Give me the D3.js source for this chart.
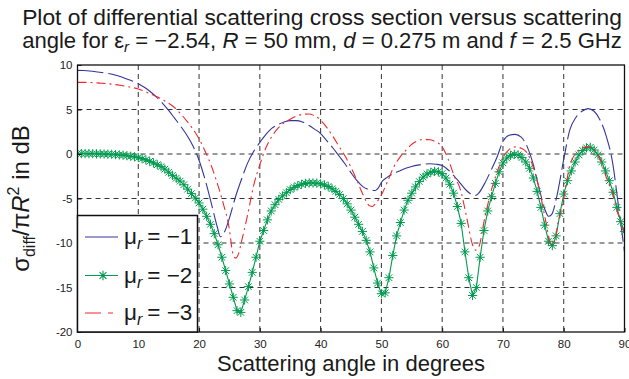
<!DOCTYPE html>
<html>
<head>
<meta charset="utf-8">
<script src="https://cdn.jsdelivr.net/npm/d3@7"></script>
<style>
  html, body { margin: 0; padding: 0; background: #fff; }
  svg { display: block; font-family: "Liberation Sans", Arial, Helvetica, sans-serif; }
</style>
</head>
<body>
<svg id="chart" width="629" height="379"></svg>
<script>
// Axis ticks
const xTicks = [0, 10, 20, 30, 40, 50, 60, 70, 80, 90];
const yTicks = [-20, -15, -10, -5, 0, 5, 10];

// Legend labels (relative permeability)
const legendLabels = ["\u22121", "\u22122", "\u22123"];

// mu_r = -2 : sampled every 0.625 degrees from 0 to 90 (145 samples), dB
const mu2Values = [
  0.05, 0.05, 0.05, 0.04, 0.03, 0.02, 0.01, 0.0, -0.02, -0.04,
  -0.07, -0.1, -0.14, -0.19, -0.25, -0.32, -0.4, -0.52, -0.66, -0.82,
  -1.0, -1.2, -1.42, -1.7, -2.05, -2.4, -2.72, -3.05, -3.45, -3.95,
  -4.45, -4.95, -5.5, -6.2, -7.0, -7.9, -8.95, -10.2, -11.6, -13.1,
  -14.6, -16.1, -17.6, -17.8, -16.4, -14.9, -13.3, -11.6, -9.8, -8.6,
  -7.4, -6.4, -5.7, -5.1, -4.7, -4.35, -4.0, -3.75, -3.55, -3.4,
  -3.3, -3.25, -3.25, -3.27, -3.35, -3.48, -3.65, -3.9, -4.2, -4.55,
  -5.0, -5.6, -6.3, -7.1, -7.9, -8.7, -9.7, -11.0, -12.8, -14.5,
  -15.7, -15.6, -13.9, -11.4, -9.2, -7.7, -6.3, -5.2, -4.4, -3.7,
  -3.1, -2.6, -2.25, -2.05, -1.95, -2.0, -2.2, -2.7, -3.4, -4.4,
  -5.9, -7.8, -11.0, -13.9, -15.9, -15.0, -11.6, -8.6, -6.4, -4.8,
  -3.3, -2.0, -1.0, -0.45, -0.15, -0.05, -0.1, -0.4, -0.9, -1.6,
  -2.7, -4.2, -6.0, -8.0, -9.8, -10.3, -9.2, -6.7, -4.5, -3.0,
  -1.9, -0.9, -0.1, 0.4, 0.7, 0.75, 0.45, -0.1, -0.9, -1.9,
  -3.0, -4.3, -6.0, -7.6, -8.7
];
const mu2Angles = d3.range(mu2Values.length).map(i => i * 0.625);

// mu_r = -1
const mu1Angles = [
  0, 1, 2, 3, 4, 5, 6, 7, 8, 9, 10, 11, 12, 13, 14, 15, 16, 17, 18, 19,
  20, 21, 22, 23, 23.5, 24, 25, 26, 27, 28, 29, 30, 31, 32, 33, 34, 35, 36, 37, 38,
  39, 40, 41, 42, 43, 44, 45, 46, 47, 48, 49, 49.5, 50, 51, 52, 53, 54, 55, 56, 57,
  58, 59, 60, 61, 62, 63, 64, 65, 65.5, 66, 67, 68, 69, 70, 71, 72, 73, 74, 75, 76,
  77, 77.5, 78, 79, 80, 81, 82, 83, 84, 85, 86, 87, 88, 89, 90
];
const mu1Values = [
  9.4, 9.38, 9.33, 9.25, 9.15, 9.05, 8.9, 8.7, 8.45, 8.2, 7.9, 7.5, 7.0, 6.4, 5.7, 4.9, 4.0, 3.1, 2.1, 0.9,
  -0.7, -2.9, -5.5, -8.2, -9.3, -9.0, -7.2, -4.8, -2.8, -1.0, 0.3, 1.3, 2.2, 2.9, 3.3, 3.6, 3.75, 3.75, 3.6, 3.25,
  2.8, 2.3, 1.5, 0.7, -0.2, -1.1, -2.1, -3.0, -3.7, -4.0, -4.1, -3.8, -3.2, -2.6, -2.2, -1.9, -1.6, -1.4, -1.25, -1.15,
  -1.1, -1.15, -1.3, -1.8, -2.5, -3.3, -4.1, -4.6, -4.65, -4.4, -3.3, -1.9, -0.4, 1.4, 2.1, 2.2, 1.9, 0.8, -1.2, -4.0,
  -6.4, -7.0, -6.8, -4.3, -0.6, 2.7, 4.1, 4.8, 5.1, 4.8, 3.8, 2.0, -0.8, -5.8, -11.0
];

// mu_r = -3
const mu3Angles = [
  0, 1, 2, 3, 4, 5, 6, 7, 8, 9, 10, 11, 12, 13, 14, 15, 16, 17, 18, 19,
  20, 21, 22, 23, 24, 25, 25.5, 26, 26.5, 27, 28, 29, 30, 31, 32, 33, 34, 35, 36, 37,
  38, 39, 40, 41, 42, 43, 44, 45, 46, 47, 48, 48.5, 49, 50, 51, 52, 53, 54, 55, 56,
  57, 58, 59, 60, 61, 62, 63, 64, 65, 65.5, 66, 67, 68, 69, 70, 71, 72, 73, 74, 75,
  76, 77, 78, 78.5, 79, 80, 81, 82, 83, 84, 85, 86, 87, 88, 89, 90
];
const mu3Values = [
  8.05, 8.05, 8.03, 8.0, 7.95, 7.9, 7.82, 7.72, 7.6, 7.48, 7.3, 7.05, 6.75, 6.45, 6.1, 5.7, 5.2, 4.5, 3.7, 2.8,
  1.7, 0.3, -1.3, -3.3, -5.6, -8.5, -11.0, -11.7, -11.2, -9.8, -6.8, -3.5, -1.2, 0.7, 2.0, 2.9, 3.5, 3.9, 4.25, 4.45,
  4.5, 4.3, 3.8, 3.0, 2.0, 0.9, -0.2, -1.5, -3.0, -4.6, -5.8, -5.9, -5.6, -4.6, -3.1, -1.5, -0.4, 0.4, 1.1, 1.5,
  1.65, 1.6, 1.35, 0.8, -0.6, -2.5, -4.0, -7.0, -10.2, -10.8, -10.5, -7.2, -4.3, -2.1, -0.4, 0.5, 0.8, 0.65, 0.1, -1.5,
  -4.0, -7.4, -10.2, -9.8, -8.0, -5.0, -1.3, 0.1, 0.65, 0.8, 0.5, -0.6, -2.6, -4.4, -6.9, -8.9
];

const colors = { mu1: "#34359a", mu2: "#009b4f", mu3: "#ec2a2e" };
const dashes = { mu1: "26,5", mu3: "9,4,2,4" };

const svg = d3.select("#chart");
const plot = { left: 77.5, right: 624.5, top: 65, bottom: 332 };

const x = d3.scaleLinear().domain([0, 90]).range([plot.left, plot.right]);
const y = d3.scaleLinear().domain([-20, 10]).range([plot.bottom, plot.top]);

// Clip to the axes box
svg.append("defs").append("clipPath").attr("id", "plotClip")
  .append("rect")
  .attr("x", plot.left).attr("y", plot.top)
  .attr("width", plot.right - plot.left).attr("height", plot.bottom - plot.top);

// Dashed grid
const grid = svg.append("g").attr("stroke", "#333").attr("stroke-width", 1)
  .attr("stroke-dasharray", "5,4").attr("fill", "none");
xTicks.slice(1, -1).forEach(t => {
  grid.append("line").attr("x1", x(t)).attr("x2", x(t))
    .attr("y1", plot.top).attr("y2", plot.bottom);
});
yTicks.slice(1, -1).forEach(t => {
  grid.append("line").attr("x1", plot.left).attr("x2", plot.right)
    .attr("y1", y(t)).attr("y2", y(t));
});

// Curves
const lines = svg.append("g").attr("clip-path", "url(#plotClip)");
const smooth = d3.line().x(d => x(d[0])).y(d => y(d[1])).curve(d3.curveMonotoneX);
const straight = d3.line().x(d => x(d[0])).y(d => y(d[1]));

const mu1 = d3.zip(mu1Angles, mu1Values);
const mu2 = d3.zip(mu2Angles, mu2Values);
const mu3 = d3.zip(mu3Angles, mu3Values);

lines.append("path").datum(mu1).attr("d", smooth)
  .attr("fill", "none").attr("stroke", colors.mu1).attr("stroke-width", 1.1)
  .attr("stroke-dasharray", dashes.mu1);

function asterisk(cx, cy, r) {
  const d = r * 0.72;
  return `M${cx - r},${cy}h${2 * r}M${cx},${cy - r}v${2 * r}` +
         `M${cx - d},${cy - d}l${2 * d},${2 * d}M${cx - d},${cy + d}l${2 * d},${-2 * d}`;
}

lines.append("path").datum(mu2).attr("d", straight)
  .attr("fill", "none").attr("stroke", colors.mu2).attr("stroke-width", 1.1);
lines.append("g").selectAll("path").data(mu2).join("path")
  .attr("d", d => asterisk(x(d[0]), y(d[1]), 4.6))
  .attr("fill", "none").attr("stroke", colors.mu2).attr("stroke-width", 1);

lines.append("path").datum(mu3).attr("d", smooth)
  .attr("fill", "none").attr("stroke", colors.mu3).attr("stroke-width", 1.1)
  .attr("stroke-dasharray", dashes.mu3);

// Axes box with inward ticks
const axes = svg.append("g");
axes.append("rect")
  .attr("x", plot.left).attr("y", plot.top)
  .attr("width", plot.right - plot.left).attr("height", plot.bottom - plot.top)
  .attr("fill", "none").attr("stroke", "#111").attr("stroke-width", 1.3);

const xAxisG = axes.append("g").attr("transform", `translate(0,${plot.bottom})`)
  .call(d3.axisBottom(x).tickValues(xTicks).tickSizeInner(-4).tickSizeOuter(0).tickPadding(8));
const yAxisG = axes.append("g").attr("transform", `translate(${plot.left},0)`)
  .call(d3.axisLeft(y).tickValues(yTicks).tickSizeInner(-4).tickSizeOuter(0).tickPadding(5)
    .tickFormat(d => String(d)));
[xAxisG, yAxisG].forEach(g => {
  g.select(".domain").remove();
  g.selectAll("line").attr("stroke", "#111");
  g.selectAll("text").attr("font-size", 11.5).attr("fill", "#222")
    .attr("font-family", '"Liberation Sans", Arial, sans-serif');
});

// Legend
const legend = svg.append("g");
legend.append("rect")
  .attr("x", plot.left).attr("y", 215.5)
  .attr("width", 120).attr("height", plot.bottom - 215.5)
  .attr("fill", "#fff").attr("stroke", "#111").attr("stroke-width", 1.5);

const legendRows = [
  { key: "mu1", label: legendLabels[0], yPos: 237 },
  { key: "mu2", label: legendLabels[1], yPos: 275.5 },
  { key: "mu3", label: legendLabels[2], yPos: 313 }
];
legendRows.forEach(r => {
  const ln = legend.append("line")
    .attr("x1", 85).attr("x2", 118).attr("y1", r.yPos).attr("y2", r.yPos)
    .attr("stroke", colors[r.key]).attr("stroke-width", 1.1);
  if (r.key === "mu3") ln.attr("stroke-dasharray", "16,7,5,40");
  if (r.key === "mu2") {
    legend.append("path").attr("d", asterisk(103, r.yPos, 4.8))
      .attr("fill", "none").attr("stroke", colors.mu2).attr("stroke-width", 1.1);
  }
  const t = legend.append("text").attr("x", 124).attr("y", r.yPos + 7)
    .attr("font-size", 22.5).attr("fill", "#1a1a1a");
  t.append("tspan").text("\u03bc");
  t.append("tspan").attr("font-size", 16).attr("font-style", "italic").attr("dy", 5).text("r");
  t.append("tspan").attr("dy", -5).attr("dx", 5).text("= " + r.label);
});

// Axis titles
svg.append("text")
  .attr("x", (plot.left + plot.right) / 2).attr("y", 371)
  .attr("text-anchor", "middle").attr("font-size", 22).attr("fill", "#1a1a1a")
  .text("Scattering angle in degrees");

const yl = svg.append("text")
  .attr("transform", `translate(29,${(plot.top + plot.bottom) / 2}) rotate(-90)`)
  .attr("text-anchor", "middle").attr("font-size", 24).attr("fill", "#1a1a1a");
yl.append("tspan").text("\u03c3");
yl.append("tspan").attr("font-size", 16).attr("dy", 6).text("diff");
yl.append("tspan").attr("dy", -6).text("/\u03c0");
yl.append("tspan").attr("font-style", "italic").text("R");
yl.append("tspan").attr("font-size", 16).attr("dy", -10).text("2");
yl.append("tspan").attr("dy", 10).text(" in dB");

// Two-line title
const title = svg.append("g").attr("fill", "#1a1a1a");
const t1 = title.append("text").attr("x", 322).attr("y", 25)
  .attr("text-anchor", "middle").attr("font-size", 19)
  .text("Plot of differential scattering cross section versus scattering");
const t2 = title.append("text").attr("x", 322).attr("y", 48)
  .attr("text-anchor", "middle").attr("font-size", 19);
t2.append("tspan").text("angle for \u03b5");
t2.append("tspan").attr("font-size", 13).attr("font-style", "italic").attr("dy", 4).text("r");
t2.append("tspan").attr("dy", -4).text(" = \u22122.54, ");
t2.append("tspan").attr("font-style", "italic").text("R");
t2.append("tspan").text(" = 50 mm, ");
t2.append("tspan").attr("font-style", "italic").text("d");
t2.append("tspan").text(" = 0.275 m and ");
t2.append("tspan").attr("font-style", "italic").text("f");
t2.append("tspan").text(" = 2.5 GHz");

// Scale each title line to span the same width
[t1, t2].forEach(t => {
  const w = t.node().getComputedTextLength();
  const target = 600;
  t.attr("font-size", 19 * target / w);
  t.selectAll("tspan").each(function () {
    const fs = d3.select(this).attr("font-size");
    if (fs) d3.select(this).attr("font-size", fs * target / w);
  });
});
</script>
</body>
</html>
